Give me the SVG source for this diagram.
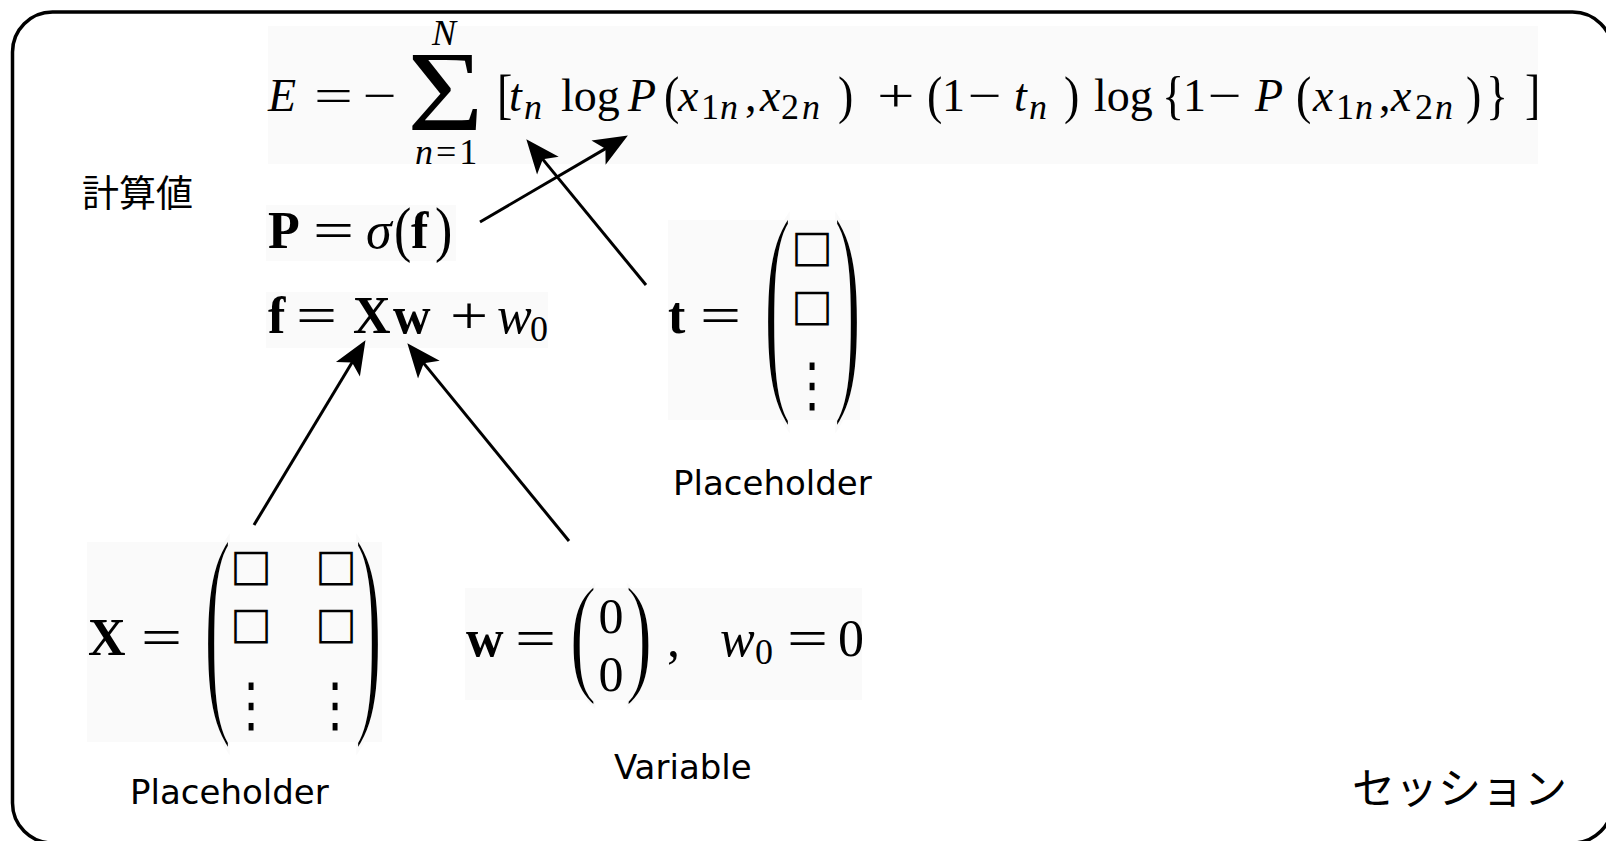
<svg xmlns="http://www.w3.org/2000/svg" width="1606" height="841" viewBox="0 0 1606 841">
<defs>
<style>
.m{font-family:"Liberation Serif",serif;font-size:46px;fill:#000}
.L{font-size:52px}
.Z{font-size:50px}
.SG{font-size:114px}
.i{font-style:italic}
.b{font-weight:bold}
.s{font-size:36px}
.ss{font-size:36px}
.lbl{font-family:"DejaVu Sans",sans-serif;font-size:34px;fill:#000}
.jp{font-family:"Noto Sans CJK JP","Noto Sans CJK SC",sans-serif;fill:#000}
.bg{fill:#fafafa}
.par{font-family:"Liberation Serif",serif;font-size:84px;text-anchor:middle;fill:#000;stroke:#fafafa;stroke-width:1.8}
.box{font-family:"DejaVu Sans",sans-serif;font-size:44px;text-anchor:middle;fill:#000}
.dots{font-family:"DejaVu Sans",sans-serif;font-size:48px;text-anchor:middle;fill:#000}
.frame{fill:#fff;stroke:#000;stroke-width:3.5}
.conn line{stroke:#000;stroke-width:3;marker-end:url(#ah)}
</style>
<marker id="ah" markerUnits="userSpaceOnUse" viewBox="-18 -15 36 30" markerWidth="36" markerHeight="30" refX="0" refY="0" orient="auto">
<path d="M17,0 L-17,-14 L-9,0 L-17,14 Z" fill="#000"/>
</marker>
</defs>

<g id="session">
<rect class="frame" x="12.5" y="12" width="1600" height="831" rx="40" ry="40"/>
<text class="jp" x="1352" y="804" font-size="43">セッション</text>
</g>

<g id="calc-label">
<text class="jp" x="82" y="207" font-size="37">計算値</text>
</g>

<g id="eq-E">
<rect class="bg" x="268" y="26" width="1270" height="138"/>
<text class="m i" x="268" y="111">E</text>
<text class="m" transform="translate(314,111) scale(1.5,1)">=</text>
<text class="m" transform="translate(363,111) scale(1.3,1)">−</text>
<text class="m SG" text-anchor="middle" transform="translate(445.5,130) scale(1.15,1)">Σ</text>
<text class="m i ss" x="432" y="45">N</text>
<text class="m ss" x="415" y="164" letter-spacing="3"><tspan class="i">n</tspan>=1</text>
<text class="m" transform="translate(497,99.5) scale(1,1.2)" y="11.5">[</text>
<text class="m i" x="509" y="111">t</text>
<text class="m i s" x="524" y="119">n</text>
<text class="m" x="561" y="111">log</text>
<text class="m i" x="628" y="111">P</text>
<text class="m" transform="translate(664,99.5) scale(1,1.17)" y="11.5">(</text>
<text class="m i" x="678" y="111">x</text>
<text class="m s" y="119"><tspan x="701">1</tspan><tspan class="i" x="720">n</tspan></text>
<text class="m" x="745" y="111">,</text>
<text class="m i" x="760" y="111">x</text>
<text class="m s" y="119"><tspan x="781">2</tspan><tspan class="i" x="802">n</tspan></text>
<text class="m" transform="translate(838,99.5) scale(1,1.17)" y="11.5">)</text>
<text class="m" transform="translate(877,111) scale(1.45,1)">+</text>
<text class="m" transform="translate(927,99.5) scale(1,1.17)" y="11.5">(</text>
<text class="m" x="942" y="111">1</text>
<text class="m" transform="translate(968,111) scale(1.3,1)">−</text>
<text class="m i" x="1014" y="111">t</text>
<text class="m i s" x="1029" y="119">n</text>
<text class="m" transform="translate(1064,99.5) scale(1,1.17)" y="11.5">)</text>
<text class="m" x="1094" y="111">log</text>
<text class="m" transform="translate(1162,99.5) scale(1,1.17)" y="11.5">{</text>
<text class="m" x="1183" y="111">1</text>
<text class="m" transform="translate(1208,111) scale(1.3,1)">−</text>
<text class="m i" x="1255" y="111">P</text>
<text class="m" transform="translate(1296,99.5) scale(1,1.17)" y="11.5">(</text>
<text class="m i" x="1313" y="111">x</text>
<text class="m s" y="119"><tspan x="1336">1</tspan><tspan class="i" x="1355">n</tspan></text>
<text class="m" x="1379" y="111">,</text>
<text class="m i" x="1391" y="111">x</text>
<text class="m s" y="119"><tspan x="1415">2</tspan><tspan class="i" x="1435">n</tspan></text>
<text class="m" transform="translate(1466,99.5) scale(1,1.17)" y="11.5">)</text>
<text class="m" transform="translate(1486,99.5) scale(1,1.17)" y="11.5">}</text>
<text class="m" transform="translate(1525,99.5) scale(1,1.2)" y="11.5">]</text>
</g>

<g id="eq-P">
<rect class="bg" x="266" y="205" width="190" height="56"/>
<text class="m L b" x="268" y="248">P</text>
<text class="m L" transform="translate(313,248) scale(1.4,1)">=</text>
<text class="m L i" x="366" y="248">σ</text>
<text class="m L" transform="translate(394,235) scale(1,1.16)" y="13">(</text>
<text class="m L b" x="411" y="248">f</text>
<text class="m L" transform="translate(435,235) scale(1,1.16)" y="13">)</text>
</g>

<g id="eq-f">
<rect class="bg" x="266" y="292" width="282" height="56"/>
<text class="m L b" x="268" y="333">f</text>
<text class="m L" transform="translate(296,333) scale(1.4,1)">=</text>
<text class="m L b" x="353" y="333">X</text>
<text class="m L b" x="393" y="333">w</text>
<text class="m L" transform="translate(450,333) scale(1.3,1)">+</text>
<text class="m L i" x="497" y="333">w</text>
<text class="m ss" x="530" y="341">0</text>
</g>

<g id="eq-t">
<rect class="bg" x="668" y="220" width="192" height="200"/>
<text class="m L b" x="668" y="333">t</text>
<text class="m L" transform="translate(700,333) scale(1.4,1)">=</text>
<text class="par" transform="translate(777.5,320) scale(1,2.79)" y="21">(</text>
<text class="par" transform="translate(847.5,320) scale(1,2.79)" y="21">)</text>
<text class="box" x="812" y="261">□</text>
<text class="box" x="812" y="320">□</text>
<text class="dots" transform="translate(812,405) scale(1,1.24)">⋮</text>
<text class="lbl" x="673" y="495">Placeholder</text>
</g>

<g id="eq-X">
<rect class="bg" x="87" y="542" width="295" height="200"/>
<text class="m L b" x="88" y="655">X</text>
<text class="m L" transform="translate(141,655) scale(1.4,1)">=</text>
<text class="par" transform="translate(217.5,642) scale(1,2.79)" y="21">(</text>
<text class="par" transform="translate(368.5,642) scale(1,2.79)" y="21">)</text>
<text class="box" x="251" y="580">□</text>
<text class="box" x="336" y="580">□</text>
<text class="box" x="251" y="638">□</text>
<text class="box" x="336" y="638">□</text>
<text class="dots" transform="translate(251,725) scale(1,1.24)">⋮</text>
<text class="dots" transform="translate(335,725) scale(1,1.24)">⋮</text>
<text class="lbl" x="130" y="804">Placeholder</text>
</g>

<g id="eq-w">
<rect class="bg" x="465" y="588" width="397" height="112"/>
<text class="m L b" x="466" y="656">w</text>
<text class="m L" transform="translate(515,656) scale(1.4,1)">=</text>
<text class="par" transform="translate(583,644.5) scale(1,1.6)" y="21">(</text>
<text class="par" transform="translate(639,644.5) scale(1,1.6)" y="21">)</text>
<text class="m Z" text-anchor="middle" x="611" y="633">0</text>
<text class="m Z" text-anchor="middle" x="611" y="691">0</text>
<text class="m L" x="667" y="656">,</text>
<text class="m L i" x="720" y="656">w</text>
<text class="m ss" x="755" y="664">0</text>
<text class="m L" transform="translate(787,656) scale(1.4,1)">=</text>
<text class="m L" x="838" y="656">0</text>
<text class="lbl" x="614" y="779">Variable</text>
</g>

<g id="connectors" class="conn">
<line x1="480" y1="222" x2="613.2" y2="144.1"/>
<line x1="646" y1="285" x2="537.1" y2="152.4"/>
<line x1="254" y1="525" x2="356.7" y2="354.7"/>
<line x1="569" y1="541" x2="418.1" y2="356.4"/>
</g>
</svg>
